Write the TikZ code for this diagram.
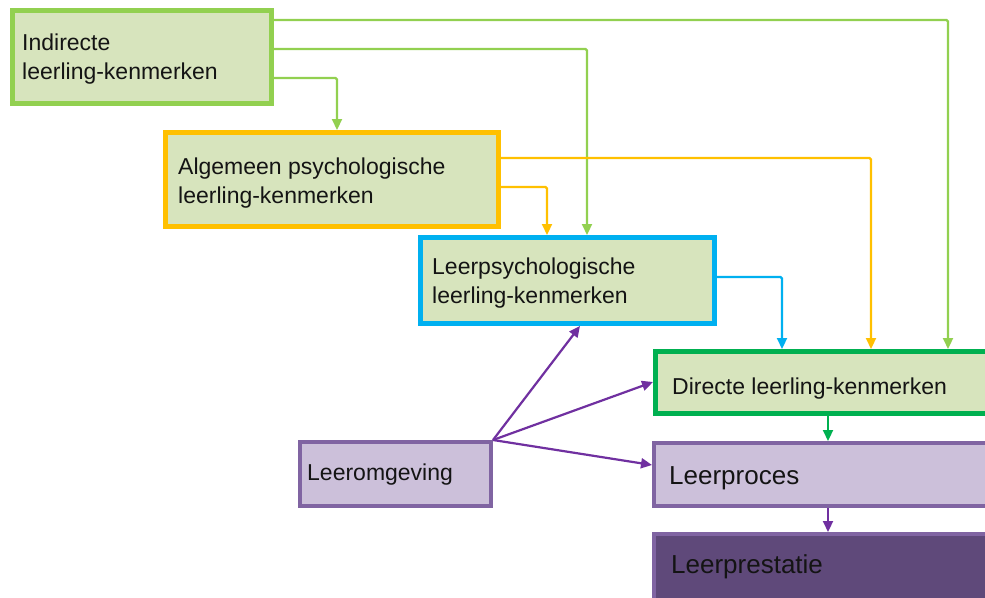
\documentclass[tikz,border=0pt]{standalone}
\usepackage{fontspec}
\setmainfont{Liberation Sans}
\usetikzlibrary{arrows.meta}
\definecolor{lgreen}{HTML}{92D050}
\definecolor{dgreen}{HTML}{00B050}
\definecolor{orng}{HTML}{FFC000}
\definecolor{lblue}{HTML}{00B0F0}
\definecolor{gfill}{HTML}{D7E4BD}
\definecolor{pfill}{HTML}{CCC0DA}
\definecolor{pline}{HTML}{8064A2}
\definecolor{pdark}{HTML}{5F497A}
\definecolor{parrow}{HTML}{7030A0}
\definecolor{txtc}{HTML}{141414}
\tikzset{
  boxnode/.style={rectangle, anchor=north west, inner sep=0pt},
  gbox/.style={boxnode, fill=gfill, line width=5pt},
  pbox/.style={boxnode, fill=pfill, draw=pline, line width=4pt},
  lbl/.style={anchor=base west, inner sep=0pt, align=left, text=txtc,
    font=\fontsize{23}{29}\selectfont},
  biglbl/.style={lbl, font=\fontsize{26}{30}\selectfont},
  conn/.style={line width=2.2pt, rounded corners=1.5pt,
    -{Triangle[length=11pt,width=10pt]}},
}
\begin{document}
\begin{tikzpicture}[x=1pt,y=-1pt]
\clip (0,0) rectangle (985,597);
\fill[white] (0,0) rectangle (985,597);
% boxes
\node[gbox, draw=lgreen, minimum width=259, minimum height=93] (ind) at (10,8) {};
\node[gbox, draw=orng, minimum width=333, minimum height=94] (alg) at (163,130) {};
\node[gbox, draw=lblue, minimum width=294, minimum height=86] (lps) at (418,235) {};
\node[gbox, draw=dgreen, minimum width=400, minimum height=62] (dir) at (653,349) {};
\node[pbox, minimum width=400, minimum height=63] (lpc) at (652,441) {};
\node[pbox, fill=pdark, minimum width=400, minimum height=100] (lpr) at (652,532) {};
\node[pbox, minimum width=191, minimum height=64] (lom) at (298,440) {};
% labels (base = last line)
\node[lbl] (t1) at (22,79) {Indirecte\\leerling-kenmerken};
\node[lbl] (t2) at (178,203) {Algemeen psychologische\\leerling-kenmerken};
\node[lbl] (t3) at (432,303) {Leerpsychologische\\leerling-kenmerken};
\node[lbl] (t4) at (672,394) {Directe leerling-kenmerken};
\node[biglbl] (t5) at (669,484) {Leerproces};
\node[biglbl] (t6) at (671,573) {Leerprestatie};
\node[lbl] (t7) at (307,480) {Leeromgeving};
% connectors
\draw[conn, lgreen] (ind.east |- 0,20) -| (dir.north -| 948,0);
\draw[conn, lgreen] (ind.east |- 0,49) -| (lps.north -| 587,0);
\draw[conn, lgreen] (ind.east |- 0,78) -| (alg.north -| 337,0);
\draw[conn, orng] (alg.east |- 0,158) -| (dir.north -| 871,0);
\draw[conn, orng] (alg.east |- 0,187) -| (lps.north -| 547,0);
\draw[conn, lblue] (lps.east |- 0,277) -| (dir.north -| 782,0);
\draw[conn, dgreen] (dir.south -| 828,0) -- (lpc.north -| 828,0);
\draw[conn, parrow] (lpc.south -| 828,0) -- (lpr.north -| 828,0);
\draw[conn, parrow] (lom.north east) -- (lps.south -| 580,0);
\draw[conn, parrow] (lom.north east) -- (dir.west |- 0,382);
\draw[conn, parrow] (lom.north east) -- (lpc.west |- 0,465);
\end{tikzpicture}
\end{document}
